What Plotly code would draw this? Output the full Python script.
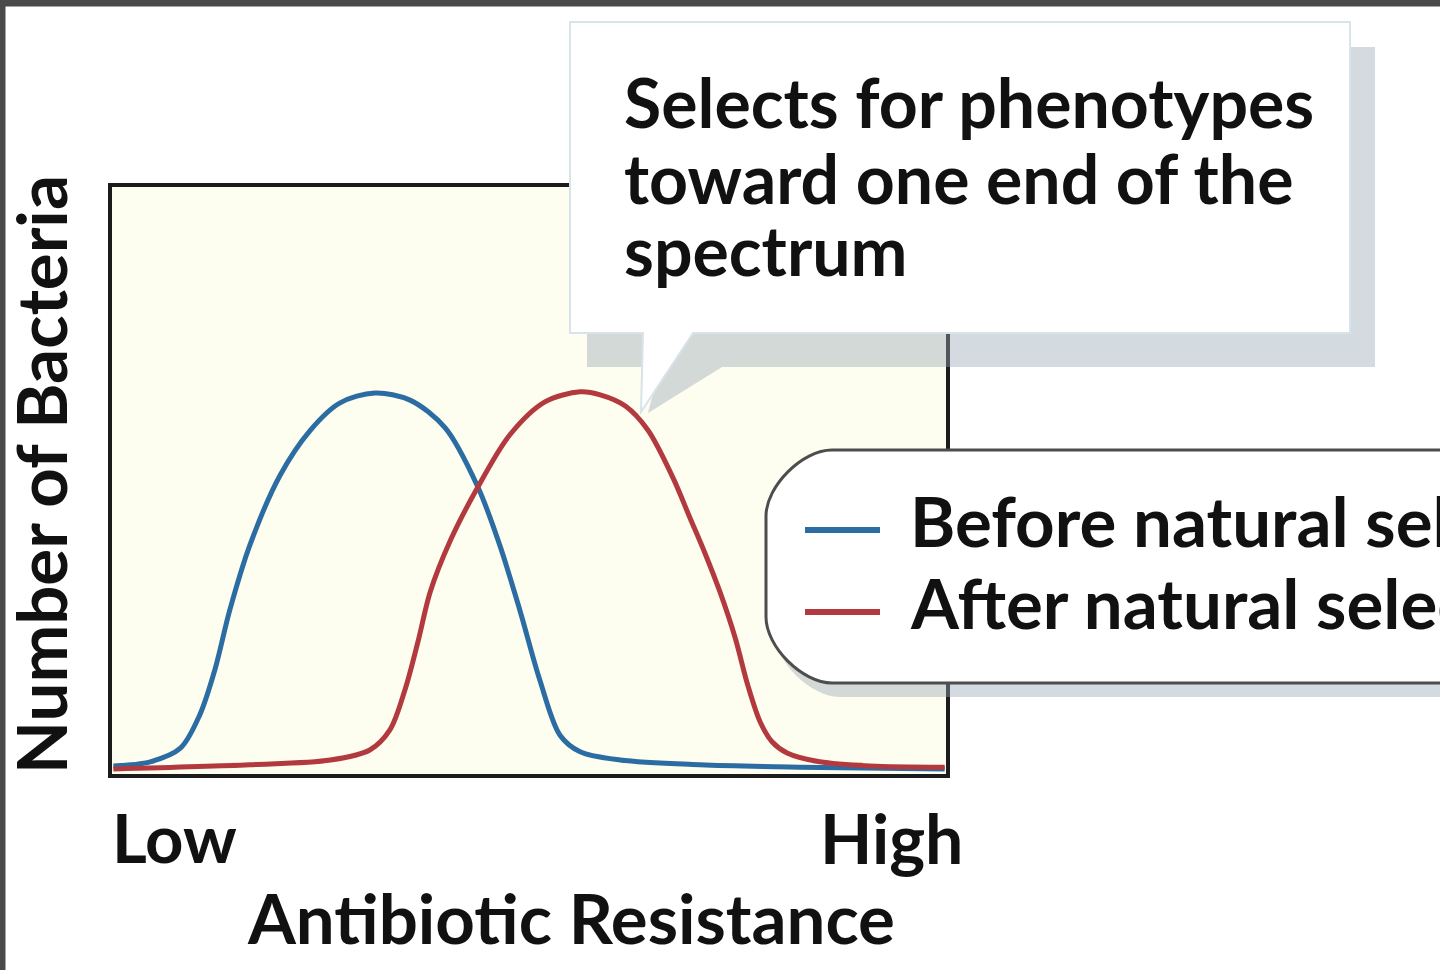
import plotly.graph_objects as go

W, H = 1440, 970

# curva antes de la seleccion (azul)
antes_x = [0.4, 4.8, 8.4, 10.7, 12.5, 14.3, 16.7, 20.3, 23.9, 27.4, 31.6, 35.8, 40.0, 43.9, 46.5,
           48.9, 51.3, 53.7, 56.1, 60.9, 70.4, 82.3, 99.6]
antes_y = [1.7, 2.4, 4.7, 10.3, 17.9, 28.1, 39.1, 50.9, 58.5, 63.1, 64.8, 63.6, 58.9, 48.9, 39.1,
           28.1, 16.2, 6.9, 4.1, 2.7, 1.9, 1.5, 1.2]

# curva despues de la seleccion (roja)
despues_x = [0.4, 16.7, 26.3, 31.0, 33.4, 35.2, 36.8, 38.2, 40.6, 43.9, 47.7, 51.9, 56.1, 58.5,
             61.5, 64.2, 67.2, 69.2, 71.0, 72.8, 74.6, 76.1, 77.6, 79.0, 80.8, 84.7, 90.7, 99.6]
despues_y = [1.2, 1.9, 2.7, 4.4, 7.8, 14.6, 23.0, 31.1, 39.8, 48.9, 57.7, 63.3, 65.0, 64.5,
             62.6, 58.5, 50.4, 43.7, 37.7, 31.1, 23.4, 15.4, 9.1, 5.8, 3.9, 2.4, 1.7, 1.5]

series = ["Before natural selection", "After natural selection"]
colores = ["#2b6ca3", "#b23a3e"]
eje_x_labels = ["Low", "High"]
titulo_x = "Antibiotic Resistance"
titulo_y = "Number of Bacteria"
nota = ["Selects for phenotypes", "toward one end of the", "spectrum"]

FUENTE = "Lato"


def px(x):
    return x / W


def py(y):
    return 1 - y / H


def ruta(puntos):
    # puntos en pixeles -> path en coordenadas paper
    s = "M " + " L ".join(f"{px(a):.5f},{py(b):.5f}" for a, b in puntos) + " Z"
    return s


def fuente(tam):
    return dict(family=FUENTE, size=tam, color="#111111", weight="bold")


fig = go.Figure()

fig.add_trace(go.Scatter(x=antes_x, y=antes_y, mode="lines", name=series[0],
                         line=dict(color=colores[0], width=5, shape="spline", smoothing=0.9)))
fig.add_trace(go.Scatter(x=despues_x, y=despues_y, mode="lines", name=series[1],
                         line=dict(color=colores[1], width=5, shape="spline", smoothing=0.9)))

shapes = []

# marco exterior (arriba e izquierda)
shapes.append(dict(type="line", xref="paper", yref="paper", x0=0, x1=1, y0=py(3), y1=py(3),
                   line=dict(color="#4a4a4a", width=7)))
shapes.append(dict(type="line", xref="paper", yref="paper", x0=px(2.5), x1=px(2.5), y0=0, y1=1,
                   line=dict(color="#4a4a4a", width=6)))

# area del grafico
shapes.append(dict(type="rect", xref="paper", yref="paper", layer="below",
                   x0=px(110), x1=px(948), y0=py(776), y1=py(185),
                   fillcolor="#fdfdf0", line=dict(color="#1c1c1c", width=4)))

# sombra y globo del comentario
shapes.append(dict(type="path", xref="paper", yref="paper", layer="above",
                   path=ruta([(587, 47), (1375, 47), (1375, 367), (722, 367), (648, 413),
                              (660, 367), (587, 367)]),
                   fillcolor="rgba(150,168,182,0.42)", line=dict(width=0)))
shapes.append(dict(type="path", xref="paper", yref="paper", layer="above",
                   path=ruta([(570, 22), (1350, 22), (1350, 333), (693, 333), (641, 412),
                              (643, 333), (570, 333)]),
                   fillcolor="white", line=dict(color="#d8e3ea", width=2)))


def caja_leyenda(dx, dy):
    x0, y0, y1, r = 766 + dx, 450 + dy, 683 + dy, 66
    k = 0.45 * r
    p = (f"M {px(1500)},{py(y0)} L {px(x0 + r)},{py(y0)} "
         f"C {px(x0 + r - k)},{py(y0)} {px(x0)},{py(y0 + r - k)} {px(x0)},{py(y0 + r)} "
         f"L {px(x0)},{py(y1 - r)} "
         f"C {px(x0)},{py(y1 - r + k)} {px(x0 + r - k)},{py(y1)} {px(x0 + r)},{py(y1)} "
         f"L {px(1500)},{py(y1)} Z")
    return p


# leyenda con esquinas redondeadas
shapes.append(dict(type="path", xref="paper", yref="paper", layer="above", path=caja_leyenda(8, 14),
                   fillcolor="rgba(150,168,182,0.42)", line=dict(width=0)))
shapes.append(dict(type="path", xref="paper", yref="paper", layer="above", path=caja_leyenda(0, 0),
                   fillcolor="white", line=dict(color="#4d4d4d", width=3)))
for i, yy in enumerate([530, 612]):
    shapes.append(dict(type="line", xref="paper", yref="paper", layer="above",
                       x0=px(805), x1=px(880), y0=py(yy), y1=py(yy),
                       line=dict(color=colores[i], width=6)))

fig.update_layout(shapes=shapes)

anots = []
for texto, yy in zip(nota, [102, 177, 250]):
    anots.append(dict(text=texto, x=px(622), y=py(yy), xanchor="left", yanchor="middle",
                      font=fuente(68)))
for texto, yy in zip(series, [520, 602]):
    anots.append(dict(text=texto, x=px(908), y=py(yy), xanchor="left", yanchor="middle",
                      font=fuente(69)))
anots.append(dict(text=eje_x_labels[0], x=px(110), y=py(837), xanchor="left", yanchor="middle",
                  font=fuente(67)))
anots.append(dict(text=eje_x_labels[1], x=px(965), y=py(837), xanchor="right", yanchor="middle",
                  font=fuente(68)))
anots.append(dict(text=titulo_x, x=px(571), y=py(917), xanchor="center", yanchor="middle",
                  font=fuente(69)))
anots.append(dict(text=titulo_y, x=px(40), y=py(475), xanchor="center", yanchor="middle",
                  textangle=-90, font=fuente(69)))

for a in anots:
    a["xref"] = "paper"
    a["yref"] = "paper"
    a["showarrow"] = False
    fig.add_annotation(**a)

fig.update_layout(
    width=W, height=H,
    margin=dict(l=0, r=0, t=0, b=0),
    paper_bgcolor="white",
    plot_bgcolor="rgba(0,0,0,0)",
    showlegend=False,
    font=dict(family=FUENTE, color="#111111"),
    xaxis=dict(domain=[px(110), px(948)], range=[0, 100], visible=False, fixedrange=True),
    yaxis=dict(domain=[py(776), py(185)], range=[0, 100], visible=False, fixedrange=True),
)

fig.write_html("out.html", config={"displayModeBar": False},
               post_script="document.body.style.margin='0';")
